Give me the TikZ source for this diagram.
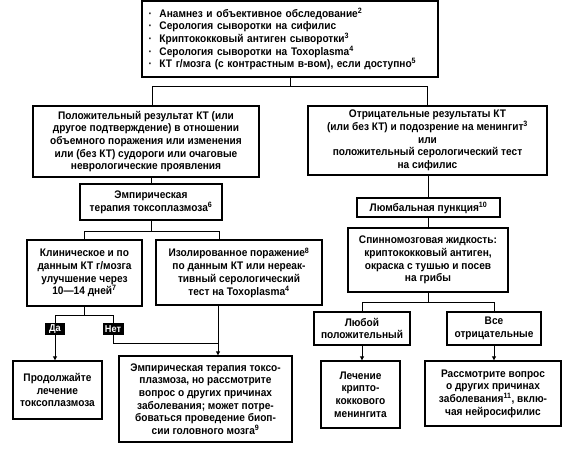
\documentclass[tikz,border=0pt]{standalone}
\usepackage{fontspec}
\setmainfont{Liberation Sans}[FakeStretch=0.92]
\usetikzlibrary{arrows.meta}
\newcommand{\sps}[1]{\textsuperscript{#1}}
\newcommand{\bul}{\makebox[11pt][l]{·}}
\begin{document}
\begin{tikzpicture}[x=1pt,y=-1pt,
  box/.style={draw, line width=1.4pt, align=center, inner sep=0pt,
    font=\fontsize{11}{12.7}\selectfont\bfseries},
  tag/.style={fill=black, text=white, inner sep=0pt, align=center,
    font=\fontsize{10}{10}\selectfont\bfseries},
  conn/.style={line width=1pt},
  arr/.style={line width=1pt, -{Triangle[length=4pt,width=4pt]}}]
\useasboundingbox (0,0) rectangle (576,460);
\fill[white] (0,0) rectangle (576,460);

\node[box, align=left, text width=283pt, minimum width=296pt, minimum height=76pt] (top) at (290,39)
 {\bul Анамнез и объективное обследование\sps{2}\\
  \bul Серология сыворотки на сифилис\\
  \bul Криптококковый антиген сыворотки\sps{3}\\
  \bul Серология сыворотки на Toxoplasma\sps{4}\\
  \bul КТ г/мозга (с контрастным в-вом), если доступно\sps{5}};

\node[box, minimum width=226pt, minimum height=71pt] (left1) at (146,141.5)
 {Положительный результат КТ (или\\другое подтверждение) в отношении\\объемного поражения или изменения\\или (без КТ) судороги или очаговые\\неврологические проявления};

\node[box, minimum width=239pt, minimum height=69pt] (right1) at (427.5,140.5)
 {Отрицательные результаты КТ\\(или без КТ) и подозрение на менингит\sps{3}\\или\\положительный серологический тест\\на сифилис};

\node[box, minimum width=142pt, minimum height=36pt] (emp) at (151,202)
 {Эмпирическая\\терапия токсоплазмоза\sps{6}};

\node[box, minimum width=115pt, minimum height=66pt] (clin) at (84.5,273)
 {Клиническое и по\\данным КТ г/мозга\\улучшение через\\10—14 дней\sps{7}};

\node[box, minimum width=166pt, minimum height=65pt] (iso) at (239,272.5)
 {Изолированное поражение\sps{8}\\по данным КТ или нереак-\\тивный серологический\\тест на Toxoplasma\sps{4}};

\node[box, minimum width=143pt, minimum height=19pt] (lumb) at (428.5,207.5)
 {Люмбальная пункция\sps{10}};

\node[box, minimum width=160pt, minimum height=64pt] (spin) at (428,260)
 {Спинномозговая жидкость:\\криптококковый антиген,\\окраска с тушью и посев\\на грибы};

\node[box, minimum width=96pt, minimum height=33pt] (anypos) at (362,328.5)
 {Любой\\положительный};

\node[box, minimum width=94pt, minimum height=33pt] (allneg) at (494,328.5)
 {Все\\отрицательные};

\node[box, minimum width=89pt, minimum height=58pt] (cont) at (57.5,390)
 {Продолжайте\\лечение\\токсоплазмоза};

\node[box, minimum width=173pt, minimum height=86pt] (emp2) at (205.5,399)
 {Эмпирическая терапия токсо-\\плазмоза, но рассмотрите\\вопрос о других причинах\\заболевания; может потре-\\боваться проведение биоп-\\сии головного мозга\sps{9}};

\node[box, minimum width=79pt, minimum height=67pt] (crypt) at (360.5,394.5)
 {Лечение\\крипто-\\коккового\\менингита};

\node[box, minimum width=136pt, minimum height=65pt] (other) at (493,393.5)
 {Рассмотрите вопрос\\о других причинах\\заболевания\sps{11}, вклю-\\чая нейросифилис};

% junction coordinates
\coordinate (j1) at (290,87);
\coordinate (j1l) at (152,87);
\coordinate (j1r) at (427.5,87);
\coordinate (j2) at (151,231);
\coordinate (j2l) at (84.5,231);
\coordinate (j2r) at (219,231);
\coordinate (j3) at (84.5,315);
\coordinate (j3l) at (55,315);
\coordinate (j3r) at (113,315);
\coordinate (j4) at (113,343);
\coordinate (j4r) at (218,343);
\coordinate (j5) at (428,302);
\coordinate (j5l) at (362,302);
\coordinate (j5r) at (494,302);

\draw[conn] (top.south) -- (j1);
\draw[conn] (j1l) -- (j1r);
\draw[conn] (j1l) -- (j1l |- left1.north);
\draw[conn] (j1r) -- (j1r |- right1.north);

\draw[conn] (emp.north |- left1.south) -- (emp.north);
\draw[conn] (emp.south) -- (j2);
\draw[conn] (j2l) -- (j2r);
\draw[conn] (j2l) -- (clin.north);
\draw[conn] (j2r) -- (j2r |- iso.north);

\draw[conn] (clin.south) -- (j3);
\draw[conn] (j3l) -- (j3r);
\draw[arr] (j3l) -- (j3l |- cont.north);
\draw[conn] (j3r) -- (j4) -- (j4r);
\draw[arr] (j4r |- iso.south) -- (j4r |- emp2.north);

\node[tag, minimum width=20pt, minimum height=12pt] (da) at (55,329) {Да};
\node[tag, minimum width=21pt, minimum height=12pt] (net) at (113,329) {Нет};

\draw[conn] (lumb.north |- right1.south) -- (lumb.north);
\draw[conn] (lumb.south) -- (lumb.south |- spin.north);
\draw[conn] (spin.south) -- (j5);
\draw[conn] (j5l) -- (j5r);
\draw[conn] (j5l) -- (anypos.north);
\draw[conn] (j5r) -- (allneg.north);
\draw[arr] (anypos.south) -- (anypos.south |- crypt.north);
\draw[arr] (allneg.south) -- (allneg.south |- other.north);
\end{tikzpicture}
\end{document}
